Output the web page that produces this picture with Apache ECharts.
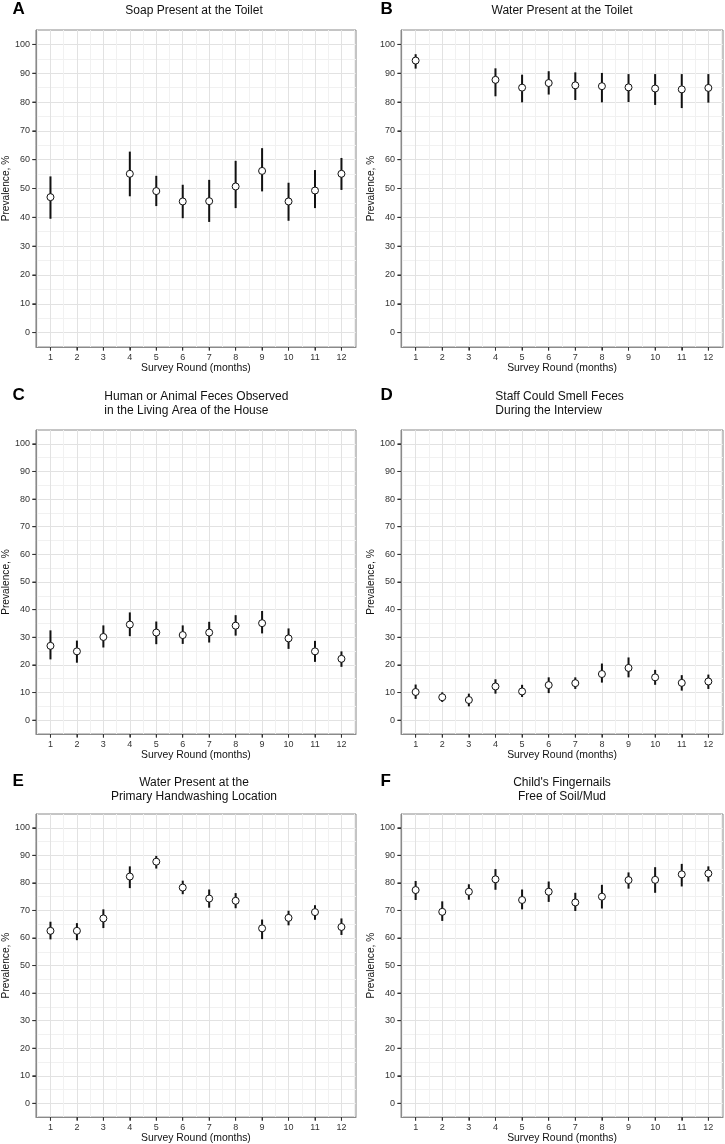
<!DOCTYPE html>
<html>
<head>
<meta charset="utf-8">
<script src="https://cdn.jsdelivr.net/npm/echarts@6/dist/echarts.min.js"></script>
<style>
html,body{margin:0;padding:0;background:#fff;}
#chart{width:725px;height:1144px;}
</style>
</head>
<body>
<div id="chart"></div>
<script>
// ---- data ----
const rounds = [1, 2, 3, 4, 5, 6, 7, 8, 9, 10, 11, 12];
const yTicks = [0, 10, 20, 30, 40, 50, 60, 70, 80, 90, 100];
const yMinor = [5, 15, 25, 35, 45, 55, 65, 75, 85, 95];
const xMinor = [0.5, 1.5, 2.5, 3.5, 4.5, 5.5, 6.5, 7.5, 8.5, 9.5, 10.5, 11.5, 12.5];

const panelLetters = ['A', 'B', 'C', 'D', 'E', 'F'];
const panelTitles = [
  'Soap Present at the Toilet',
  'Water Present at the Toilet',
  'Human or Animal Feces Observed\nin the Living Area of the House',
  'Staff Could Smell Feces\nDuring the Interview',
  'Water Present at the\nPrimary Handwashing Location',
  "Child's Fingernails\nFree of Soil/Mud"
];
const xAxisTitle = 'Survey Round (months)';
const yAxisTitle = 'Prevalence, %';

const soapMean = [47.0, null, null, 55.1, 49.1, 45.5, 45.6, 50.7, 56.1, 45.5, 49.3, 55.1];
const soapLow  = [39.5, null, null, 47.3, 43.9, 39.7, 38.4, 43.2, 49.0, 38.8, 43.2, 49.5];
const soapHigh = [54.2, null, null, 62.8, 54.4, 51.3, 53.0, 59.6, 64.0, 52.0, 56.4, 60.6];

const toiletWaterMean = [94.4, null, null, 87.7, 85.0, 86.6, 85.8, 85.5, 85.1, 84.7, 84.4, 84.9];
const toiletWaterLow  = [91.6, null, null, 82.0, 79.9, 82.6, 80.7, 79.9, 80.0, 79.0, 77.9, 79.8];
const toiletWaterHigh = [96.6, null, null, 91.7, 89.5, 90.7, 90.3, 90.1, 89.7, 89.7, 89.7, 89.7];

const fecesMean = [26.9, 24.9, 30.1, 34.6, 31.7, 30.8, 31.7, 34.2, 35.1, 29.6, 24.9, 22.2];
const fecesLow  = [22.0, 20.8, 26.3, 30.4, 27.5, 27.6, 28.1, 30.6, 31.4, 25.8, 21.1, 19.3];
const fecesHigh = [32.5, 28.8, 34.3, 39.0, 35.7, 34.3, 35.6, 38.0, 39.5, 33.2, 28.7, 24.9];

const smellMean = [10.2, 8.3, 7.3, 12.2, 10.4, 12.7, 13.4, 16.7, 18.9, 15.5, 13.5, 14.0];
const smellLow  = [7.7, 6.6, 5.0, 9.6, 8.4, 9.8, 11.3, 13.6, 15.5, 12.8, 10.7, 11.3];
const smellHigh = [12.9, 10.1, 9.6, 14.8, 12.8, 15.5, 15.5, 20.5, 22.7, 18.2, 16.3, 16.5];

const handWaterMean = [62.6, 62.6, 67.1, 82.3, 87.7, 78.3, 74.3, 73.5, 63.5, 67.3, 69.4, 64.0];
const handWaterLow  = [59.5, 59.2, 63.6, 78.1, 85.2, 75.9, 71.0, 70.8, 59.6, 64.6, 66.6, 61.1];
const handWaterHigh = [65.9, 65.4, 70.4, 86.0, 89.8, 80.8, 77.6, 76.3, 66.7, 69.9, 71.9, 67.1];

const nailsMean = [77.4, 69.5, 76.8, 81.3, 73.8, 76.8, 72.9, 75.0, 81.0, 81.1, 83.1, 83.4];
const nailsLow  = [73.8, 66.2, 73.9, 77.5, 70.4, 73.1, 69.8, 70.7, 77.9, 76.4, 78.7, 80.5];
const nailsHigh = [80.7, 73.3, 79.5, 85.0, 77.6, 80.5, 76.4, 79.3, 83.8, 85.7, 86.9, 86.0];

const panelData = [
  [soapMean, soapLow, soapHigh],
  [toiletWaterMean, toiletWaterLow, toiletWaterHigh],
  [fecesMean, fecesLow, fecesHigh],
  [smellMean, smellLow, smellHigh],
  [handWaterMean, handWaterLow, handWaterHigh],
  [nailsMean, nailsLow, nailsHigh]
];

// ---- layout ----
const FONT = '"Liberation Sans", Arial, Helvetica, sans-serif';
const grids = [
  {left: 32, top: 30, width: 324, height: 317},
  {left: 401, top: 30, width: 322, height: 317},
  {left: 32, top: 430, width: 324, height: 304},
  {left: 401, top: 430, width: 322, height: 304},
  {left: 32, top: 814, width: 324, height: 304},
  {left: 401, top: 814, width: 322, height: 304}
];
// title placement: [x, yCenter, align]
const titlePos = [
  [194, 11, 'center'],
  [562, 11, 'center'],
  [104.3, 404, 'left'],
  [495.3, 404, 'left'],
  [194, 790, 'center'],
  [562, 790, 'center']
];
const letterPos = [[12.5, 9.5], [380.5, 9.5], [12.5, 395.5], [380.5, 395.5], [12.5, 781], [380.5, 781]];

const MAJOR = '#e2e2e2';
const MINOR = '#f1f1f1';
const BORDER = '#8a8a8a';
const TICK = '#333333';
const TICK_LEN = 3.5;

const option = {
  animation: false,
  backgroundColor: '#ffffff',
  grid: [],
  xAxis: [],
  yAxis: [],
  series: [],
  graphic: []
};

grids.forEach((g, i) => {
  option.grid.push(Object.assign({show: true, borderColor: BORDER, borderWidth: 1, backgroundColor: 'transparent'}, g));
  // major x axis
  option.xAxis.push({
    type: 'value', gridIndex: i, min: 0.45, max: 12.55, position: 'bottom',
    axisLine: {show: true, onZero: false, lineStyle: {color: BORDER, width: 1}},
    axisTick: {show: true, length: TICK_LEN, customValues: rounds, lineStyle: {color: TICK, width: 1}},
    axisLabel: {show: true, customValues: rounds, margin: 6, fontSize: 9, color: '#333', fontFamily: FONT},
    splitLine: {show: true, lineStyle: {color: MAJOR, width: 1}},
    name: xAxisTitle, nameLocation: 'middle', nameGap: 15.5,
    nameTextStyle: {fontSize: 10.4, color: '#111', fontFamily: FONT}
  });
  // minor x axis (grid only)
  option.xAxis.push({
    type: 'value', gridIndex: i, min: 0.45, max: 12.55, position: 'bottom',
    axisLine: {show: false, onZero: false},
    axisTick: {show: false, customValues: xMinor},
    axisLabel: {show: false},
    splitLine: {show: true, lineStyle: {color: MINOR, width: 1}}
  });
  // major y axis
  option.yAxis.push({
    type: 'value', gridIndex: i, min: -5, max: 105, position: 'left',
    axisLine: {show: true, onZero: false, lineStyle: {color: BORDER, width: 1}},
    axisTick: {show: true, length: TICK_LEN, customValues: yTicks, lineStyle: {color: TICK, width: 1}},
    axisLabel: {show: true, customValues: yTicks, margin: 6, fontSize: 9, color: '#333', fontFamily: FONT},
    splitLine: {show: true, lineStyle: {color: MAJOR, width: 1}},
    name: yAxisTitle, nameLocation: 'middle', nameGap: 22, nameRotate: 90,
    nameTextStyle: {fontSize: 10.2, color: '#111', fontFamily: FONT}
  });
  // minor y axis (grid only)
  option.yAxis.push({
    type: 'value', gridIndex: i, min: -5, max: 105, position: 'left',
    axisLine: {show: false, onZero: false},
    axisTick: {show: false, customValues: yMinor},
    axisLabel: {show: false},
    splitLine: {show: true, lineStyle: {color: MINOR, width: 1}}
  });

  const [mean, low, high] = panelData[i];
  const barData = [];
  const ptData = [];
  rounds.forEach((r, k) => {
    if (mean[k] !== null) {
      barData.push([r, low[k], high[k]]);
      ptData.push([r, mean[k]]);
    }
  });

  // axis tick marks, placed through the axes' own scales
  const xTickData = rounds.map(r => [r, -5]);
  const yTickData = yTicks.map(v => [0.45, v]);
  option.series.push({
    type: 'custom', xAxisIndex: 2 * i, yAxisIndex: 2 * i, z: 5, clip: false, silent: true,
    data: xTickData.concat(yTickData),
    renderItem: function (params, api) {
      const p = api.coord([api.value(0), api.value(1)]);
      const isX = params.dataIndex < rounds.length;
      const shape = isX
        ? {x1: p[0], y1: p[1], x2: p[0], y2: p[1] + TICK_LEN}
        : {x1: p[0], y1: p[1], x2: p[0] - TICK_LEN, y2: p[1]};
      return {type: 'line', shape: shape, style: {stroke: TICK, lineWidth: 1}};
    }
  });

  option.series.push({
    type: 'custom', xAxisIndex: 2 * i, yAxisIndex: 2 * i, z: 3,
    data: barData,
    encode: {x: 0, y: [1, 2]},
    renderItem: function (params, api) {
      const x = api.value(0);
      const p1 = api.coord([x, api.value(1)]);
      const p2 = api.coord([x, api.value(2)]);
      return {
        type: 'line',
        shape: {x1: p1[0], y1: p1[1], x2: p2[0], y2: p2[1]},
        style: {stroke: '#111', lineWidth: 2}
      };
    }
  });
  option.series.push({
    type: 'scatter', xAxisIndex: 2 * i, yAxisIndex: 2 * i, z: 4,
    data: ptData, symbol: 'circle', symbolSize: 7,
    itemStyle: {color: '#ffffff', borderColor: '#111', borderWidth: 1, opacity: 1}
  });

  const tp = titlePos[i];
  option.graphic.push({
    type: 'text', x: tp[0], y: tp[1], silent: true,
    style: {text: panelTitles[i], fontSize: 12, fontFamily: FONT, fill: '#111',
            textAlign: tp[2], textVerticalAlign: 'middle', lineHeight: 14}
  });
  const lp = letterPos[i];
  option.graphic.push({
    type: 'text', x: lp[0], y: lp[1], silent: true,
    style: {text: panelLetters[i], fontSize: 17, fontWeight: 'bold', fontFamily: FONT, fill: '#000',
            textAlign: 'left', textVerticalAlign: 'middle'}
  });
});

const chart = echarts.init(document.getElementById('chart'), null, {renderer: 'canvas'});
chart.setOption(option);
</script>
</body>
</html>
